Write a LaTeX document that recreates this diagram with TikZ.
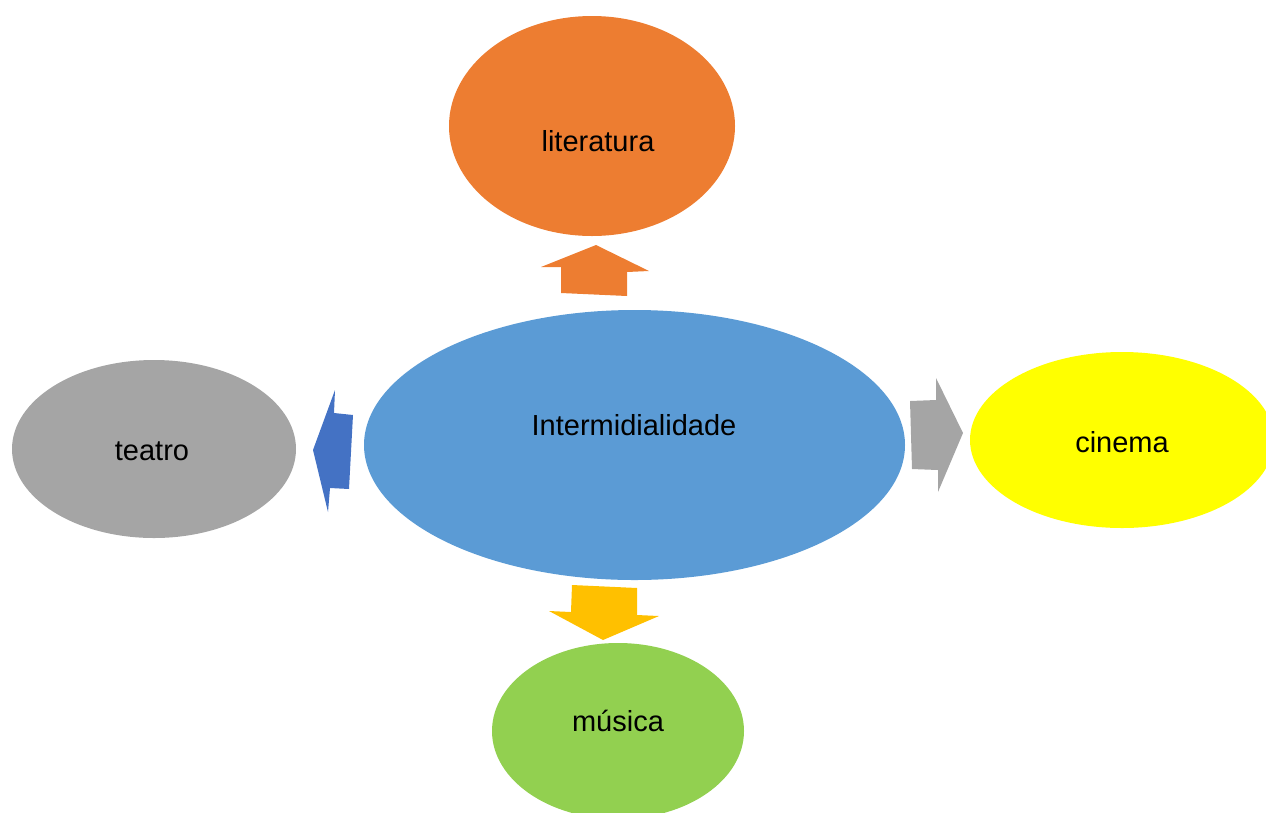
\documentclass[tikz,border=0pt]{standalone}
\usepackage{fontspec}
\setmainfont{Liberation Sans}
\usetikzlibrary{shapes.geometric}
\definecolor{orangeA}{HTML}{ED7D31}
\definecolor{blueA}{HTML}{5B9BD5}
\definecolor{blueB}{HTML}{4472C4}
\definecolor{grayA}{HTML}{A5A5A5}
\definecolor{yellowA}{HTML}{FFFF00}
\definecolor{goldA}{HTML}{FFC000}
\definecolor{greenA}{HTML}{92D050}

\tikzset{
  bubble/.style={ellipse, inner sep=0pt},
  word/.style={inner sep=0pt, font=\fontsize{29}{34}\selectfont},
}

\begin{document}
\begin{tikzpicture}[x=1pt, y=-1pt]
\useasboundingbox (0,0) rectangle (1266,812);
\clip (0,0) rectangle (1266,812);
\node[bubble, fill=blueA, minimum width=541, minimum height=270] (I) at (634.5,445) {};
\node[word] (Itxt) at (634,425) {Intermidialidade};
\node[bubble, fill=orangeA, minimum width=286, minimum height=220] (L) at (592,126) {};
\node[word] (Ltxt) at (598,141) {literatura};
\node[bubble, fill=grayA, minimum width=284, minimum height=178] (T) at (154,449) {};
\node[word] (Ttxt) at (152,451) {teatro};
\node[bubble, fill=yellowA, minimum width=304, minimum height=176] (C) at (1122,440) {};
\node[word] (Ctxt) at (1122,442) {cinema};
\node[bubble, fill=greenA, minimum width=252, minimum height=176] (M) at (618,731) {};
\node[word] (Mtxt) at (618,721) {música};
% block arrows
\fill[orangeA] (596,245) -- (649,271) -- (627,272) -- (627,296) -- (561,293) -- (561,267) -- (541,267) -- cycle;
\fill[blueB] (313,450) -- (335,390) -- (334,413) -- (353,415) -- (349,489) -- (330,488) -- (328,512) -- cycle;
\fill[grayA] (963,433) -- (938,492) -- (938,470) -- (912,469) -- (910,401) -- (936,400) -- (936,378) -- cycle;
\fill[goldA] (603,640) -- (549,611) -- (571,612) -- (572,585) -- (637,588) -- (637,615) -- (659,616) -- cycle;
\end{tikzpicture}
\end{document}
